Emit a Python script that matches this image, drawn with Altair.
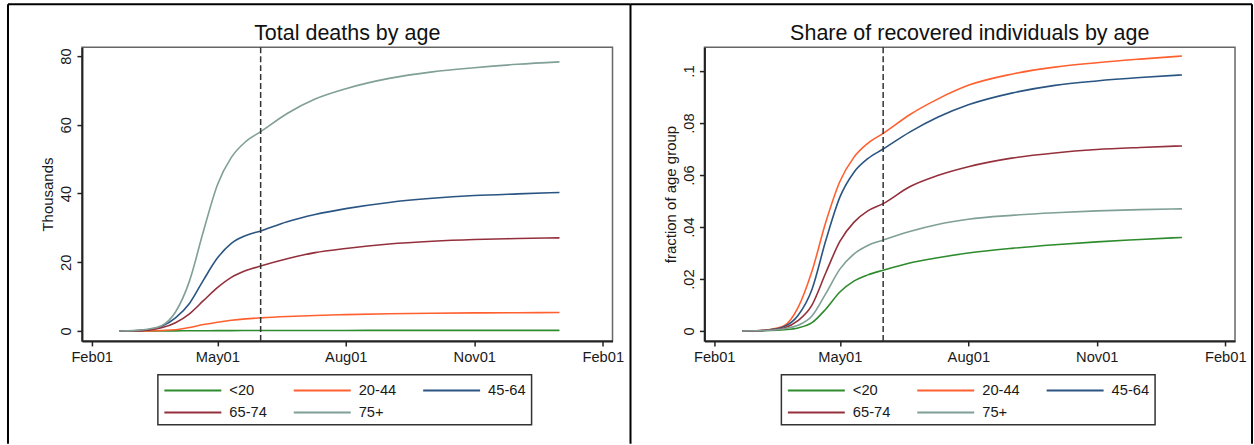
import altair as alt
import pandas as pd

FONT = "Liberation Sans"
INK = "#1a1a1a"

# Observation dates (model output, Feb 2020 - Jan 2021)
dates = [
    "2020-02-21", "2020-03-02", "2020-03-12", "2020-03-22", "2020-04-01",
    "2020-04-11", "2020-04-21", "2020-05-01", "2020-05-11", "2020-05-21",
    "2020-06-01", "2020-06-20", "2020-07-10", "2020-08-01", "2020-09-01",
    "2020-10-02", "2020-11-01", "2020-12-02", "2021-01-01",
]

age_groups = ["<20", "20-44", "45-64", "65-74", "75+"]
group_colors = ["#2e8b2e", "#ff6030", "#2a5582", "#94303c", "#7f9f97"]

# Cumulative deaths, thousands
deaths_lt20 = [0, 0, 0.01, 0.02, 0.03, 0.05, 0.07, 0.09, 0.10, 0.11, 0.12, 0.13, 0.14, 0.15, 0.16, 0.16, 0.17, 0.17, 0.17]
deaths_20_44 = [0, 0, 0.03, 0.15, 0.35, 1.0, 1.85, 2.55, 3.1, 3.5, 3.8, 4.2, 4.5, 4.75, 5.0, 5.15, 5.25, 5.3, 5.35]
deaths_45_64 = [0, 0.05, 0.3, 1.3, 3.8, 8.0, 14.8, 21.2, 25.5, 27.7, 29.1, 31.8, 33.9, 35.6, 37.4, 38.6, 39.4, 39.9, 40.3]
deaths_65_74 = [0, 0.03, 0.2, 0.9, 2.4, 5.0, 8.8, 12.6, 15.6, 17.5, 18.9, 21.0, 22.8, 24.0, 25.3, 26.1, 26.6, 26.9, 27.1]
deaths_75p = [0, 0.1, 0.5, 1.5, 5.5, 14.5, 29.0, 42.5, 50.5, 55.0, 58.0, 63.3, 67.5, 70.5, 73.5, 75.4, 76.6, 77.6, 78.3]

# Recovered individuals, fraction of each age group
share_lt20 = [0, 0.0001, 0.0002, 0.0005, 0.0012, 0.0032, 0.0085, 0.0150, 0.0192, 0.0216, 0.0234, 0.0262, 0.0282, 0.0300, 0.0318, 0.0332, 0.0343, 0.0352, 0.0360]
share_20_44 = [0, 0.0001, 0.0006, 0.0020, 0.009, 0.023, 0.042, 0.0575, 0.0668, 0.0722, 0.0760, 0.0832, 0.0892, 0.0945, 0.0988, 0.1015, 0.1032, 0.1046, 0.1058]
share_45_64 = [0, 0.0001, 0.0005, 0.0017, 0.006, 0.016, 0.035, 0.0515, 0.0610, 0.0663, 0.0700, 0.0765, 0.0822, 0.0870, 0.0915, 0.0945, 0.0962, 0.0975, 0.0985]
share_65_74 = [0, 0.0001, 0.0004, 0.0012, 0.004, 0.010, 0.0225, 0.0345, 0.0418, 0.0462, 0.0490, 0.0555, 0.0598, 0.0632, 0.0665, 0.0685, 0.0698, 0.0706, 0.0712]
share_75p = [0, 0.0001, 0.0003, 0.0009, 0.0022, 0.0058, 0.0145, 0.0238, 0.0296, 0.0329, 0.0350, 0.0383, 0.0410, 0.0430, 0.0445, 0.0455, 0.0462, 0.0467, 0.0470]

policy_date = ["2020-06-01"]
x_tick_dates = ["2020-02-01", "2020-05-01", "2020-08-01", "2020-11-01", "2021-02-01"]
x_range = ["2020-01-25", "2021-02-08"]
deaths_ticks = [0, 20, 40, 60, 80]
deaths_range = [-2.9, 82.6]
share_ticks = [0, 0.02, 0.04, 0.06, 0.08, 0.1]
share_range = [-0.0038, 0.1092]


def utc_date(s):
    y, m, d = (int(p) for p in s.split("-"))
    return alt.DateTime(year=y, month=m, date=d, utc=True)


def long_table(series):
    rows = []
    for grp, vals in zip(age_groups, series):
        for dt, v in zip(dates, vals):
            rows.append({"date": dt, "group": grp, "value": v})
    return pd.DataFrame(rows)


deaths = long_table([deaths_lt20, deaths_20_44, deaths_45_64, deaths_65_74, deaths_75p])
shares = long_table([share_lt20, share_20_44, share_45_64, share_65_74, share_75p])
policy = pd.DataFrame({"date": policy_date})
one_row = pd.DataFrame({"k": [0]})

W, H = 531, 294


def border(x, y, x2=None, y2=None):
    enc = {"x": alt.value(x), "y": alt.value(y)}
    if x2 is not None:
        enc["x2"] = alt.value(x2)
    if y2 is not None:
        enc["y2"] = alt.value(y2)
    return alt.Chart(one_row).mark_rule(color="black", strokeWidth=2).encode(**enc)


def panel(df, title, y_title, y_ticks, y_domain, legend_x, label_expr=None):
    x_enc = alt.X(
        "date:T",
        scale=alt.Scale(type="utc", domain=[utc_date(x_range[0]), utc_date(x_range[1])]),
        axis=alt.Axis(
            values=[utc_date(s) for s in x_tick_dates],
            format="%b%d",
            title=None,
            labelFlush=False,
            labelOverlap=False,
            labelPadding=4,
        ),
    )
    axis_args = dict(
        values=y_ticks,
        title=y_title,
        labelAngle=270,
        labelAlign="center",
        labelBaseline="bottom",
        labelPadding=3,
        titlePadding=3,
    )
    if label_expr:
        axis_args["labelExpr"] = label_expr
    lines = alt.Chart(df).mark_line(strokeWidth=1.6, interpolate="monotone").encode(
        x=x_enc,
        y=alt.Y(
            "value:Q",
            scale=alt.Scale(domain=y_domain, nice=False, zero=False),
            axis=alt.Axis(**axis_args),
        ),
        color=alt.Color(
            "group:N",
            scale=alt.Scale(domain=age_groups, range=group_colors),
            sort=age_groups,
            legend=alt.Legend(
                title=None,
                orient="none",
                legendX=legend_x,
                legendY=327.8,
                direction="horizontal",
                columns=3,
                symbolType="M-3,0H3",
                symbolSize=361,
                symbolStrokeWidth=2,
                symbolOffset=19.5,
                labelFont=FONT,
                labelFontSize=14.7,
                labelColor=INK,
                labelOffset=26,
                columnPadding=21.5,
                rowPadding=4.4,
                padding=5,
                strokeColor="#333333",
            ),
        ),
    )
    marker = alt.Chart(policy).mark_rule(color="#333333", strokeWidth=1.5, strokeDash=[6, 3]).encode(
        x=alt.X("date:T")
    )
    heading = alt.Chart(one_row).mark_text(
        font=FONT, fontSize=21.5, color="#111111", align="center", baseline="alphabetic"
    ).encode(x=alt.value(W / 2), y=alt.value(-7), text=alt.value(title))
    return alt.layer(lines, marker, heading).properties(width=W, height=H)


left = alt.layer(
    panel(deaths, "Total deaths by age", "Thousands", deaths_ticks, deaths_range, 76),
    border(-74, -43, y2=397),
    border(-74, -43, x2=549),
    border(549, -43, y2=397),
)

right = alt.layer(
    panel(
        shares,
        "Share of recovered individuals by age",
        "fraction of age group",
        share_ticks,
        share_range,
        77,
        "datum.value == 0 ? '0' : replace(format(datum.value, '~g'), '0.', '.')",
    ),
    border(-74, -43, x2=548),
    border(548, -43, y2=397),
)

chart = (
    alt.hconcat(left, right, spacing=92, bounds="flush")
    .resolve_scale(x="independent", y="independent")
    .resolve_legend(color="independent")
    .properties(padding={"left": 6, "top": 2, "right": 0, "bottom": 0}, background="white")
    .configure_axis(
        labelFont=FONT,
        labelFontSize=14.7,
        labelColor=INK,
        titleFont=FONT,
        titleFontSize=15,
        titleFontWeight="normal",
        titleColor=INK,
        tickSize=5,
        tickColor="#222222",
        tickWidth=1.5,
        domainColor="#222222",
        domainWidth=2,
        grid=False,
    )
    .configure_legend(strokeWidth=1.5)
    .configure_view(stroke="#666666", strokeWidth=1.5)
)

chart.save("out.html", embed_options={"renderer": "svg", "actions": False})
